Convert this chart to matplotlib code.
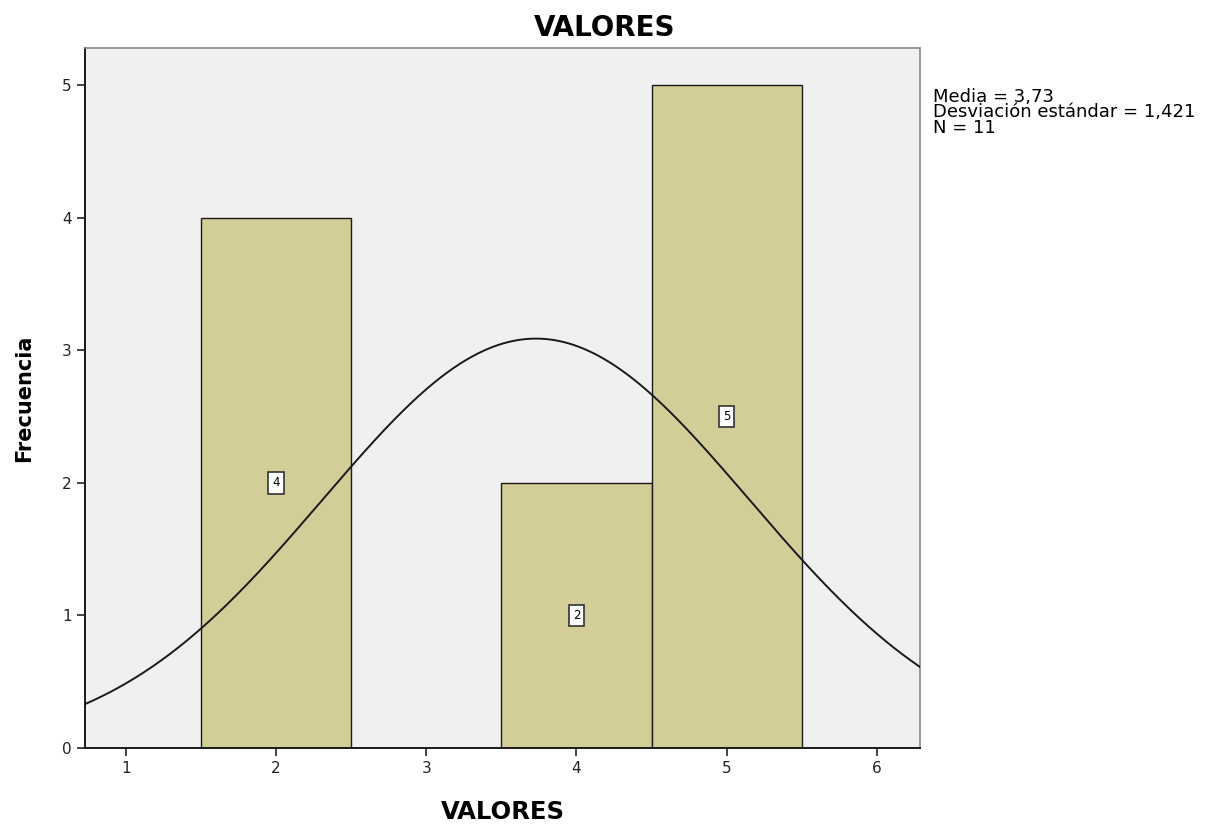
import numpy as np
import matplotlib
matplotlib.use("Agg")
import matplotlib.pyplot as plt

plt.rcParams.update({"font.family": ["DejaVu Sans"]})

# histogram data (bins of width 1 centred on the values)
bin_centers = [2, 4, 5]
counts = [4, 2, 5]
media = 3.73
desv = 1.421
n = 11
x_ticks = [1, 2, 3, 4, 5, 6]
y_ticks = [0, 1, 2, 3, 4, 5]

fig = plt.figure(figsize=(12.1, 8.24), dpi=100)
ax = fig.add_axes([0.0702, 0.0922, 0.6901, 0.8495])
ax.set_facecolor("#f0f0f0")

ax.bar(bin_centers, counts, width=1.0, color="#d3ce97", edgecolor="#1a1a1a", linewidth=1.0, zorder=2)
for xc, c in zip(bin_centers, counts):
    ax.text(xc, c / 2, str(c), ha="center", va="center", fontsize=8.5, zorder=4,
            bbox=dict(boxstyle="square,pad=0.35", facecolor="white", edgecolor="#333333", linewidth=1.2))

# normal curve scaled to counts
xs = np.linspace(0.727, 6.287, 400)
ys = n * 1.0 / (desv * np.sqrt(2 * np.pi)) * np.exp(-0.5 * ((xs - media) / desv) ** 2)
ax.plot(xs, ys, color="#1a1a1a", linewidth=1.4, zorder=3)

ax.set_xlim(0.727, 6.287)
ax.set_ylim(0, 5.28)
ax.set_xticks(x_ticks)
ax.set_yticks(y_ticks)
ax.tick_params(direction="out", length=6, width=1.2, labelsize=11, colors="#222222")
for s in ["left", "bottom"]:
    ax.spines[s].set_color("#1a1a1a")
    ax.spines[s].set_linewidth(1.4)
for s in ["top", "right"]:
    ax.spines[s].set_color("#888888")
    ax.spines[s].set_linewidth(1.2)

fig.text(0.5, 0.966, "VALORES", fontsize=20, fontweight="bold", ha="center", va="center")
ax.set_xlabel("VALORES", fontsize=17.5, fontweight="bold", labelpad=17)
ax.set_ylabel("Frecuencia", fontsize=15, fontweight="bold", labelpad=20)

fig.text(0.771, 0.893, f"Media = {media:.2f}".replace(".", ",") + "\n"
         f"Desviación estándar = {desv:.3f}".replace(".", ",") + f"\nN = {n}",
         fontsize=13, va="top", ha="left", linespacing=0.8)

fig.savefig("out.png", dpi=100, facecolor="white")
